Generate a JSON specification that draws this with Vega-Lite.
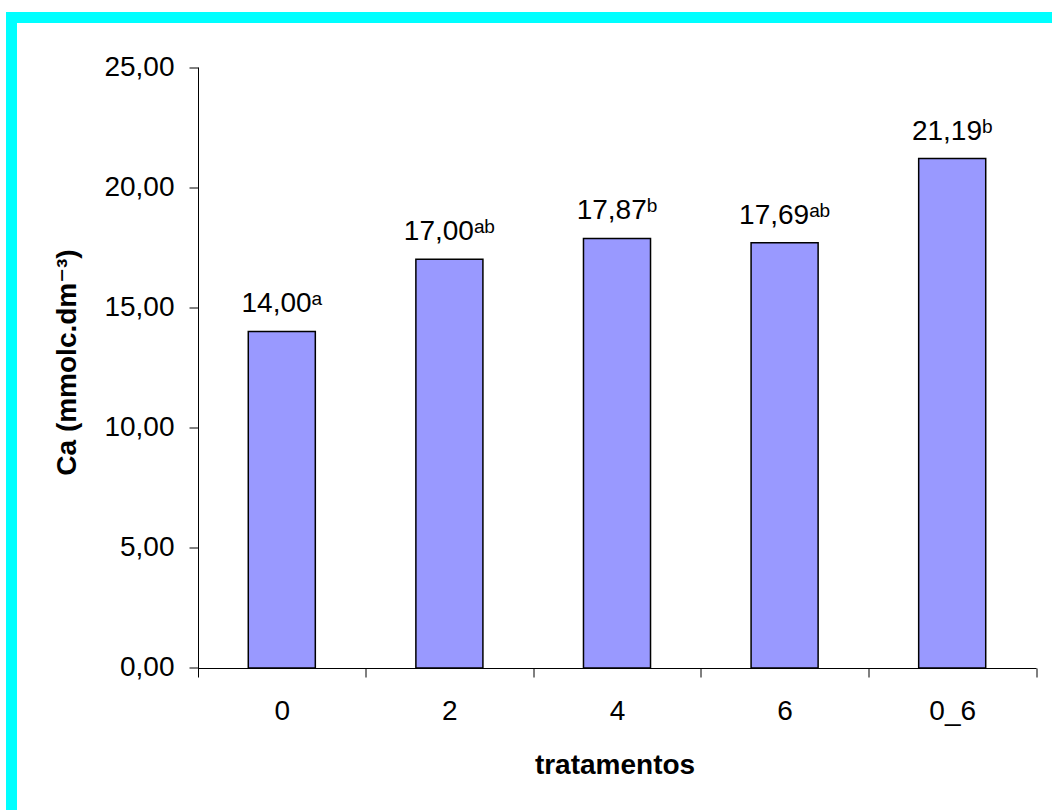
{
  "$schema": "https://vega.github.io/schema/vega-lite/v6.json",
  "width": 1100,
  "height": 850,
  "autosize": {"type": "none"},
  "padding": {"left": 11.5, "top": 17.5, "right": -59.5, "bottom": -57.5},
  "background": "white",
  "config": {
    "view": {"stroke": "#00FFFF", "strokeWidth": 11, "fill": "white"},
    "font": "Liberation Sans, DejaVu Sans",
    "axis": {
      "labelFont": "Liberation Sans",
      "labelFontSize": 28,
      "labelColor": "black",
      "tickColor": "black",
      "domainColor": "black",
      "tickSize": 9,
      "tickWidth": 1,
      "domainWidth": 1,
      "grid": false,
      "titleFont": "Liberation Sans, DejaVu Sans",
      "titleFontSize": 28,
      "titleFontWeight": "bold",
      "titleColor": "black"
    }
  },
  "data": {
    "values": [
      {"trat": "0", "ca": 14.00, "lab": "14,00ᵃ"},
      {"trat": "2", "ca": 17.00, "lab": "17,00ᵃᵇ"},
      {"trat": "4", "ca": 17.87, "lab": "17,87ᵇ"},
      {"trat": "6", "ca": 17.69, "lab": "17,69ᵃᵇ"},
      {"trat": "0_6", "ca": 21.19, "lab": "21,19ᵇ"}
    ]
  },
  "encoding": {
    "x": {
      "field": "trat",
      "type": "nominal",
      "sort": null,
      "scale": {"range": [186.5, 1024.5], "paddingInner": 0.6, "paddingOuter": 0.3},
      "axis": {
        "orient": "bottom",
        "offset": -199.5,
        "labelAngle": 0,
        "labelPadding": 20,
        "bandPosition": 1,
        "tickOffset": 50.28,
        "labelOffset": -50.28,
        "title": "tratamentos",
        "titleBaseline": "alphabetic",
        "titleAlign": "center",
        "titleX": 603,
        "titleY": 105
      }
    },
    "y": {
      "field": "ca",
      "type": "quantitative",
      "scale": {"domain": [-0.3744, 25], "range": [659.5, 49.5], "nice": false, "zero": false},
      "axis": {
        "orient": "left",
        "offset": -186.5,
        "values": [0, 5, 10, 15, 20, 25],
        "labelExpr": "replace(format(datum.value, '.2f'), '.', ',')",
        "labelPadding": 15,
        "title": "Ca (mmolc.dm⁻³)",
        "titleAngle": -90,
        "titleBaseline": "alphabetic",
        "titleAlign": "center",
        "titleX": -123,
        "titleY": 344.5
      }
    }
  },
  "layer": [
    {"mark": {"type": "bar", "fill": "#9999FF", "stroke": "black", "strokeWidth": 1.5}},
    {
      "mark": {"type": "text", "baseline": "alphabetic", "dy": -19, "fontSize": 28, "font": "Liberation Sans, DejaVu Sans", "color": "black"},
      "encoding": {"text": {"field": "lab"}}
    }
  ]
}
